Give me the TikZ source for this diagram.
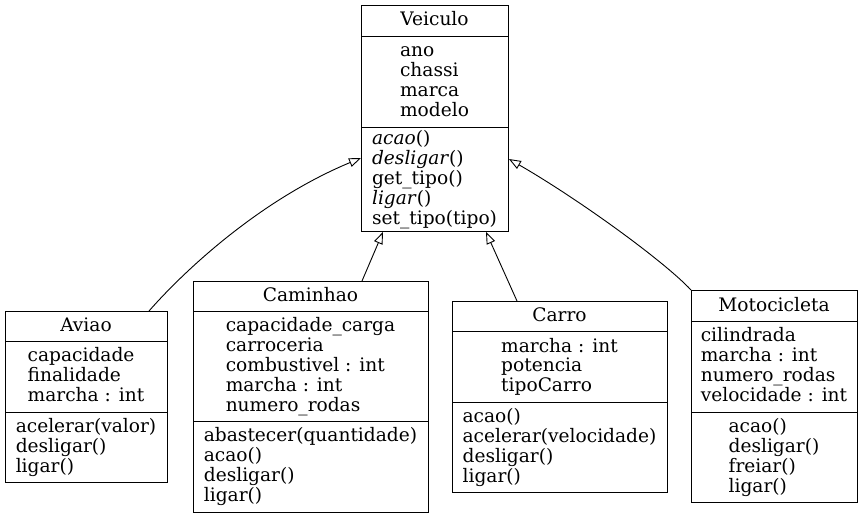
\documentclass[tikz,border=0pt]{standalone}
\usepackage{fontspec}
\setmainfont{DejaVu Serif}
\usetikzlibrary{arrows.meta,calc}
\newcommand{\umlrows}[1]{\begin{tabular}{@{}l@{}}#1\end{tabular}}
\begin{document}
\begin{tikzpicture}[x=1pt,y=-1pt,
  every node/.style={inner sep=0pt, font=\fontsize{18.6}{19.5}\selectfont},
  box/.style={draw, line width=0.9pt, anchor=north west, rectangle},
  sepline/.style={line width=0.9pt},
  ctitle/.style={anchor=base},
  crows/.style={anchor=center},
  inh/.style={-{Triangle[open,length=12pt,width=9pt]}, line width=0.9pt}]
\useasboundingbox (0,0) rectangle (863,519);

% Veiculo
\node[box, minimum width=147pt, minimum height=226pt] (veiculo) at (361,5) {};
\draw[sepline] ($(veiculo.north west)+(0,31)$) -- ($(veiculo.north east)+(0,31)$);
\draw[sepline] ($(veiculo.north west)+(0,122)$) -- ($(veiculo.north east)+(0,122)$);
\node[ctitle] (veiculoT) at (434.5,26) {Veiculo};
\node[crows] (veiculoA) at (434.5,82.5) {\umlrows{ano\\chassi\\marca\\modelo}};
\node[crows] (veiculoM) at (434.5,180) {\umlrows{\textit{acao}()\\\textit{desligar}()\\get\_tipo()\\\textit{ligar}()\\set\_tipo(tipo)}};

% Aviao
\node[box, minimum width=162pt, minimum height=171pt] (aviao) at (5,311) {};
\draw[sepline] ($(aviao.north west)+(0,30.5)$) -- ($(aviao.north east)+(0,30.5)$);
\draw[sepline] ($(aviao.north west)+(0,101)$) -- ($(aviao.north east)+(0,101)$);
\node[ctitle] (aviaoT) at (86,331.5) {Aviao};
\node[crows] (aviaoA) at (86,377.75) {\umlrows{capacidade\\finalidade\\marcha : int}};
\node[crows] (aviaoM) at (86,448) {\umlrows{acelerar(valor)\\desligar()\\ligar()}};

% Caminhao
\node[box, minimum width=235pt, minimum height=231pt] (caminhao) at (193,281) {};
\draw[sepline] ($(caminhao.north west)+(0,30)$) -- ($(caminhao.north east)+(0,30)$);
\draw[sepline] ($(caminhao.north west)+(0,140.5)$) -- ($(caminhao.north east)+(0,140.5)$);
\node[ctitle] (caminhaoT) at (310.5,301.5) {Caminhao};
\node[crows] (caminhaoA) at (310.5,367.25) {\umlrows{capacidade\_carga\\carroceria\\combustivel : int\\marcha : int\\numero\_rodas}};
\node[crows] (caminhaoM) at (310.5,467.75) {\umlrows{abastecer(quantidade)\\acao()\\desligar()\\ligar()}};

% Carro
\node[box, minimum width=215pt, minimum height=191pt] (carro) at (452,301) {};
\draw[sepline] ($(carro.north west)+(0,30.5)$) -- ($(carro.north east)+(0,30.5)$);
\draw[sepline] ($(carro.north west)+(0,101)$) -- ($(carro.north east)+(0,101)$);
\node[ctitle] (carroT) at (559.5,321.5) {Carro};
\node[crows] (carroA) at (559.5,367.75) {\umlrows{marcha : int\\potencia\\tipoCarro}};
\node[crows] (carroM) at (559.5,448) {\umlrows{acao()\\acelerar(velocidade)\\desligar()\\ligar()}};

% Motocicleta
\node[box, minimum width=166pt, minimum height=212pt] (moto) at (691,290) {};
\draw[sepline] ($(moto.north west)+(0,31.5)$) -- ($(moto.north east)+(0,31.5)$);
\draw[sepline] ($(moto.north west)+(0,122)$) -- ($(moto.north east)+(0,122)$);
\node[ctitle] (motoT) at (774,311) {Motocicleta};
\node[crows] (motoA) at (774,367.75) {\umlrows{cilindrada\\marcha : int\\numero\_rodas\\velocidade : int}};
\node[crows] (motoM) at (774,458) {\umlrows{acao()\\desligar()\\freiar()\\ligar()}};

% Inheritance
\draw[inh] ($(aviao.north west)+(144,0)$) .. controls (185,270) and (260,200) .. ($(veiculo.north west)+(0,153)$);
\draw[inh] ($(caminhao.north west)+(169,0)$) -- ($(veiculo.south west)+(22,0)$);
\draw[inh] ($(carro.north west)+(65,0)$) -- ($(veiculo.south west)+(125,0)$);
\draw[inh] (moto.north west) .. controls (665,262) and (580,200) .. ($(veiculo.north east)+(0,154)$);
\end{tikzpicture}
\end{document}
